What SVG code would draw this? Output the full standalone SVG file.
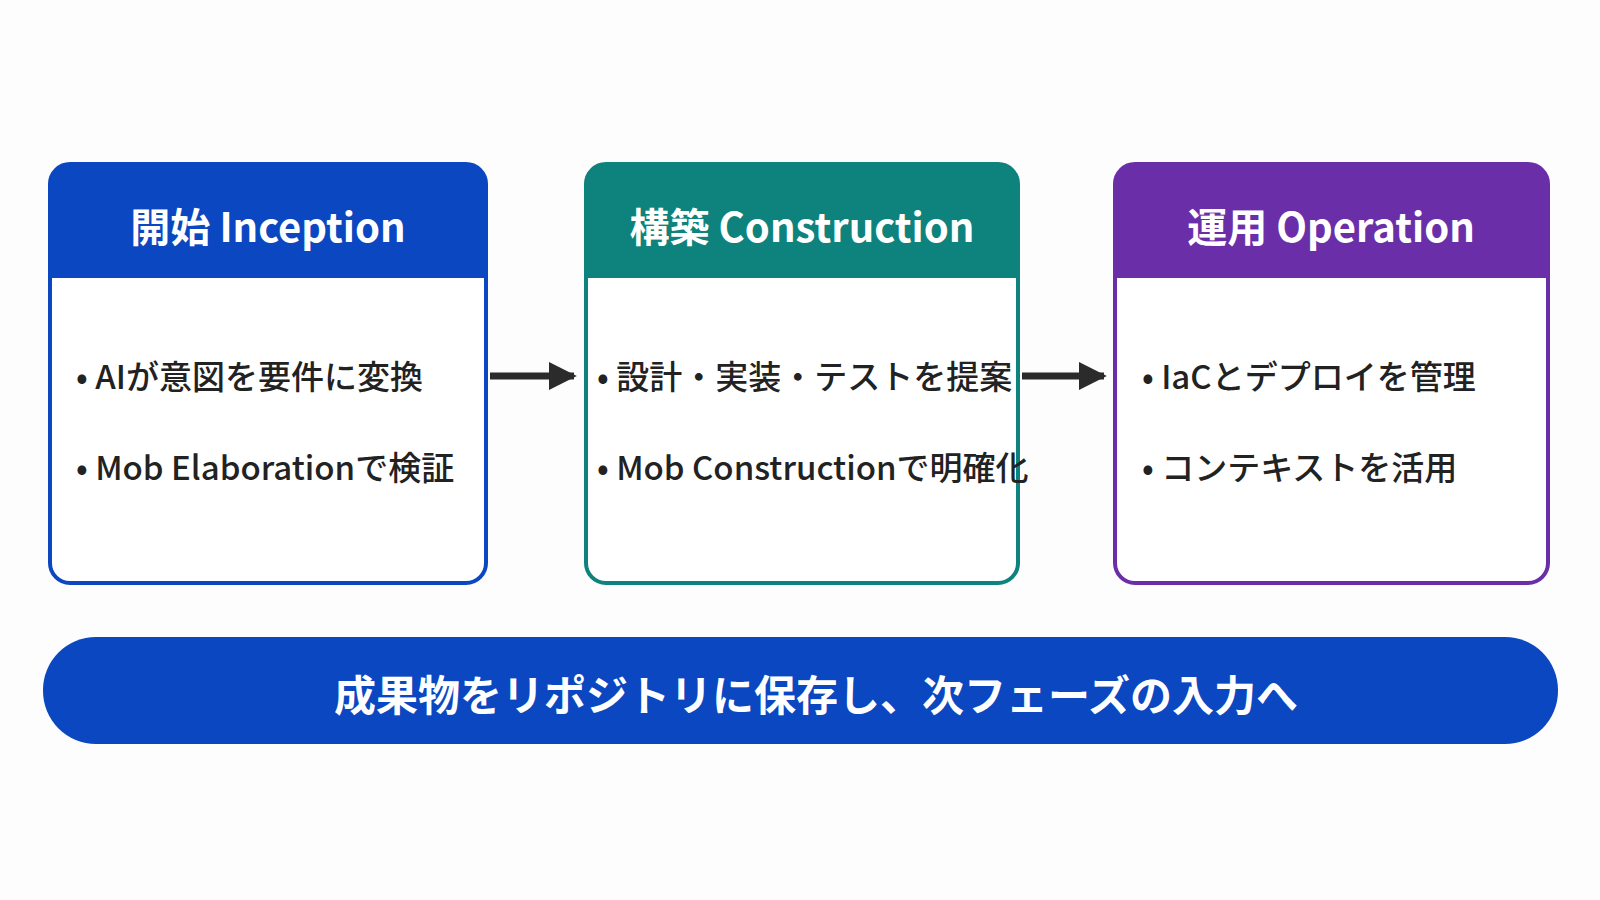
<svg xmlns="http://www.w3.org/2000/svg" width="1600" height="900" viewBox="0 0 1600 900">
<style>
.h{font-family:"Noto Sans CJK JP","Noto Sans",sans-serif;font-weight:700;font-size:40px;fill:#fff;text-anchor:middle;dominant-baseline:central}
.b{font-family:"Noto Sans CJK JP","Noto Sans",sans-serif;font-weight:500;font-size:33px;fill:#222;dominant-baseline:central}
.bar{font-family:"Noto Sans CJK JP","Noto Sans",sans-serif;font-weight:700;font-size:42px;fill:#fff;text-anchor:middle;dominant-baseline:central}
</style>
<defs><marker id="ah" viewBox="0 0 10 10" refX="9" refY="5" markerWidth="4" markerHeight="4" orient="auto"><path d="M0,0L10,5L0,10z" fill="#2b2b2b"/></marker></defs>
<rect width="1600" height="900" fill="#fdfdfd"/>
<g id="inception">
<rect x="50" y="164" width="436" height="419" rx="20" fill="#fff" stroke="#0b47c1" stroke-width="4"/>
<path d="M50,184a20,20 0 0 1 20,-20h396a20,20 0 0 1 20,20v94h-436z" fill="#0b47c1"/>
<text class="h" x="268" y="225">開始 Inception</text>
<text class="b" x="76" y="375">•  AIが意図を要件に変換</text>
<text class="b" x="76" y="466">•  Mob Elaborationで検証</text>
</g>
<g id="construction">
<rect x="586" y="164" width="432" height="419" rx="20" fill="#fff" stroke="#0e827c" stroke-width="4"/>
<path d="M586,184a20,20 0 0 1 20,-20h392a20,20 0 0 1 20,20v94h-432z" fill="#0e827c"/>
<text class="h" x="802" y="225">構築 Construction</text>
<text class="b" x="597" y="375">•  設計・実装・テストを提案</text>
<text class="b" x="597" y="466">•  Mob Constructionで明確化</text>
</g>
<g id="operation">
<rect x="1115" y="164" width="433" height="419" rx="20" fill="#fff" stroke="#6a2fa8" stroke-width="4"/>
<path d="M1115,184a20,20 0 0 1 20,-20h393a20,20 0 0 1 20,20v94h-433z" fill="#6a2fa8"/>
<text class="h" x="1331" y="225">運用 Operation</text>
<text class="b" x="1142" y="375">•  IaCとデプロイを管理</text>
<text class="b" x="1142" y="466">•  コンテキストを活用</text>
</g>
<g id="connectors" stroke="#2b2b2b" stroke-width="7" fill="none">
<line x1="490" y1="376" x2="574" y2="376" marker-end="url(#ah)"/>
<line x1="1022" y1="376" x2="1104" y2="376" marker-end="url(#ah)"/>
</g>
<g id="footer">
<rect x="43" y="637" width="1515" height="107" rx="53" fill="#0b47c1"/>
<text class="bar" x="816" y="692">成果物をリポジトリに保存し、次フェーズの入力へ</text>
</g>
</svg>
